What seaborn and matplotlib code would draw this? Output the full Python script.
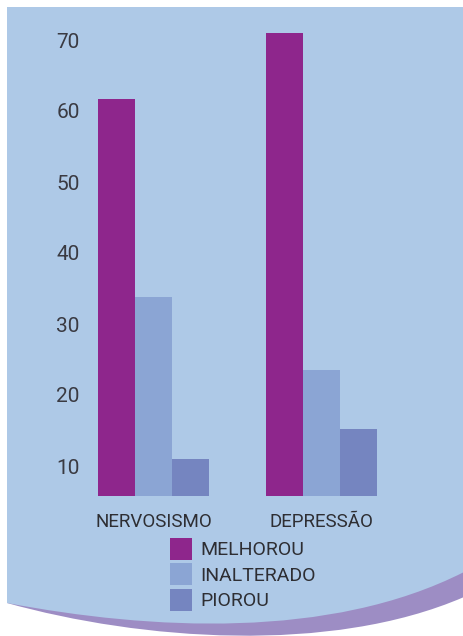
import matplotlib
matplotlib.use("Agg")
import matplotlib.pyplot as plt
from matplotlib.path import Path
from matplotlib.patches import PathPatch
import seaborn as sns
import pandas as pd

# --- data ---
categorias = ["NERVOSISMO", "DEPRESSÃO"]
avaliacoes = ["MELHOROU", "INALTERADO", "PIOROU"]
melhorou = [61.7, 71.0]
inalterado = [33.8, 23.5]
piorou = [11.0, 15.2]
yticks = [10, 20, 30, 40, 50, 60, 70]

cores = ["#8e268c", "#8ba5d4", "#7585c0"]
fundo = "#aec9e7"
onda = "#9d8dc4"
texto = "#2e2e33"

W, H = 464, 636

rows = []
for serie, vals in zip(avaliacoes, [melhorou, inalterado, piorou]):
    for cat, v in zip(categorias, vals):
        rows.append({"categoria": cat, "avaliacao": serie, "valor": v})
df = pd.DataFrame(rows)

sns.set_theme(style="white")
plt.rcParams["font.family"] = ["Roboto", "DejaVu Sans"]

fig = plt.figure(figsize=(W / 100, H / 100), dpi=100)
fig.patch.set_facecolor("white")


def px(x, y):
    # pixel coords (top-left origin) -> figure fraction
    return (x / W, (H - y) / H)


def panel(bottom_curve, color, z):
    p0, c1, c2, p3 = bottom_curve
    verts = [px(7, 7), px(W + 2, 7), px(W + 2, p3[1]), px(*p3), px(*c2), px(*c1), px(*p0), px(7, 7)]
    codes = [Path.MOVETO, Path.LINETO, Path.LINETO, Path.LINETO,
             Path.CURVE4, Path.CURVE4, Path.CURVE4, Path.CLOSEPOLY]
    patch = PathPatch(Path(verts, codes), facecolor=color, edgecolor="none",
                      transform=fig.transFigure, zorder=z)
    fig.patches.append(patch)


# purple swoosh underneath, light blue panel on top
panel([(7, 603), (140, 640), (330, 655), (464, 597)], onda, -20)
panel([(7, 603), (150, 630), (330, 640), (464, 572)], fundo, -10)

# axes: bar base at y=496px, 10 units = 71px
left_px, right_px, top_px, base_px = 88, 440, 20, 496
ax = fig.add_axes([left_px / W, (H - base_px) / H,
                   (right_px - left_px) / W, (base_px - top_px) / H])
ax.set_facecolor("none")

sns.barplot(data=df, x="categoria", y="valor", hue="avaliacao",
            order=categorias, hue_order=avaliacoes, palette=cores,
            width=0.66, saturation=1, gap=0, linewidth=0, ax=ax, legend=True)

ppu = 7.1
ax.set_ylim(10 - (496 - 466) / ppu, 70 + (40 - top_px) / ppu)
ax.set_xlim(-(153.5 - left_px) / 168, 1 + (right_px - 321.5) / 168)
ax.set_yticks(yticks)
ax.set_yticklabels([str(t) for t in yticks], fontsize=15, color="#3a3a42")
ax.tick_params(axis="y", length=0, pad=6)
ax.tick_params(axis="x", length=0, pad=12, labelsize=13.5, labelcolor=texto)
ax.set_xlabel("")
ax.set_ylabel("")
for s in ax.spines.values():
    s.set_visible(False)

handles, labels = ax.get_legend_handles_labels()
ax.legend(handles, labels, loc="upper left", bbox_to_anchor=px(170, 538),
          bbox_transform=fig.transFigure, frameon=False, fontsize=14,
          handlelength=1.13, handleheight=1.36, handletextpad=0.45,
          labelspacing=0.18, borderpad=0, borderaxespad=0, labelcolor=texto)

fig.savefig("out.png", dpi=100, facecolor="white")
